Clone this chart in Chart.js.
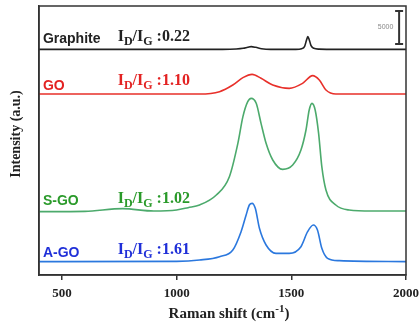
<!DOCTYPE html>
<html>
<head>
<meta charset="utf-8">
<script src="https://cdn.jsdelivr.net/npm/chart.js@4/dist/chart.umd.min.js"></script>
<style>
  html, body { margin: 0; padding: 0; background: #fff; }
  #wrap { width: 419px; height: 327px; }
</style>
</head>
<body>
<div id="wrap"><canvas id="ramanChart" width="419" height="327"></canvas></div>
<script>
// Raman spectra (offset stacked, a.u.)
const graphiteX = [400, 1200, 1260, 1290, 1310, 1325, 1345, 1370, 1410, 1520, 1545, 1558, 1566, 1572, 1578, 1586, 1598, 1620, 1700, 2000];
const graphiteY = [33850, 33850, 33900, 34000, 34150, 34250, 34150, 33950, 33850, 33850, 33950, 34300, 35200, 35750, 35300, 34400, 34000, 33880, 33850, 33850];

const goX = [400, 1100, 1187, 1245, 1289, 1329, 1368, 1419, 1491, 1549, 1593, 1622, 1651, 1694, 2000];
const goY = [27150, 27150, 27500, 28500, 29600, 30100, 29500, 28500, 28000, 28750, 29900, 29250, 27750, 27150, 27150];

const sgoX = [400, 600, 765, 900, 1000, 1050, 1100, 1173, 1230, 1267, 1289, 1310, 1325, 1347, 1368, 1390, 1419, 1462, 1506, 1542, 1564, 1578, 1590, 1604, 1619, 1633, 1651, 1694, 1752, 1850, 2000];
const sgoY = [9500, 9550, 9950, 9600, 9750, 10100, 10500, 12000, 14750, 19750, 23750, 26000, 26500, 25750, 22750, 19750, 17250, 15850, 16500, 18750, 21750, 24750, 25750, 24750, 21250, 16250, 12750, 10500, 9750, 9600, 9600];

const agoX = [400, 1000, 1100, 1187, 1245, 1281, 1303, 1317, 1329, 1343, 1361, 1390, 1433, 1491, 1542, 1571, 1596, 1614, 1633, 1658, 1709, 2000];
const agoY = [2000, 2050, 2250, 2750, 3750, 6500, 9000, 10500, 10750, 10000, 7000, 4500, 3250, 3250, 4250, 6500, 7500, 6750, 4000, 2500, 2150, 2000];

const sampleNames = ["Graphite", "GO", "S-GO", "A-GO"];
const ratios = ["0.22", "1.10", "1.02", "1.61"];
const lineColors = ["#222222", "#e8302a", "#4caa6c", "#2b78de"];
const textColors = ["#222222", "#e32222", "#2a9a2a", "#1f2fd8"];
// where the labels sit (data coords: x in cm-1, y in a.u.)
const labelY = [34800, 27750, 10500, 2700];
const ratioY = [35100, 28500, 10800, 3150];

const xTicks = [500, 1000, 1500, 2000];
const scaleBarX = [1970, 1970];
const scaleBarY = [34650, 39600];

function pts(xs, ys) {
    return xs.map((x, i) => ({ x: x, y: ys[i] }));
}

const spectra = [pts(graphiteX, graphiteY), pts(goX, goY), pts(sgoX, sgoY), pts(agoX, agoY)];

let datasets = spectra.map((d, i) => ({
    label: sampleNames[i],
    data: d,
    borderColor: lineColors[i],
    borderWidth: 1.6,
    pointRadius: 0,
    cubicInterpolationMode: "monotone",
    fill: false
}));

// 5000 a.u. scale bar
datasets.push({
    label: "scale",
    data: pts(scaleBarX, scaleBarY),
    borderColor: "#333",
    backgroundColor: "#333",
    borderWidth: 2,
    pointStyle: "line",
    pointRadius: 4,
    pointBorderWidth: 2
});

function drawRatio(ctx, x, y, value, color) {
    ctx.save();
    ctx.fillStyle = color;
    ctx.textBaseline = "alphabetic";
    ctx.textAlign = "left";
    const big = "bold 16px 'Liberation Serif', 'Times New Roman', serif";
    const small = "bold 12px 'Liberation Serif', 'Times New Roman', serif";
    let parts = [["I", big, 0], ["D", small, 4], ["/I", big, 0], ["G", small, 4], [" :" + value, big, 0]];
    parts.forEach(p => {
        ctx.font = p[1];
        ctx.fillText(p[0], x, y + p[2]);
        x += ctx.measureText(p[0]).width;
    });
    ctx.restore();
}

const decorations = {
    id: "decorations",
    afterDatasetsDraw(chart) {
        const ctx = chart.ctx;
        const a = chart.chartArea;
        const xs = chart.scales.x, ys = chart.scales.y;

        // frame
        ctx.save();
        ctx.strokeStyle = "#333";
        ctx.lineWidth = 1.5;
        ctx.strokeRect(a.left, a.top, a.right - a.left, a.bottom - a.top);
        ctx.restore();

        // sample names and ratios
        sampleNames.forEach((name, i) => {
            ctx.save();
            ctx.fillStyle = textColors[i];
            ctx.font = "bold 14px 'Liberation Sans', Arial, sans-serif";
            ctx.textBaseline = "alphabetic";
            ctx.fillText(name, xs.getPixelForValue(417), ys.getPixelForValue(labelY[i]));
            ctx.restore();
            drawRatio(ctx, xs.getPixelForValue(743), ys.getPixelForValue(ratioY[i]), ratios[i], textColors[i]);
        });

        // scale bar label
        ctx.save();
        ctx.fillStyle = "#888";
        ctx.font = "7px 'Liberation Sans', Arial, sans-serif";
        ctx.textAlign = "right";
        ctx.textBaseline = "middle";
        ctx.fillText("5000", xs.getPixelForValue(1945), ys.getPixelForValue(37200));
        ctx.restore();

        // axis titles
        ctx.save();
        ctx.fillStyle = "#222";
        ctx.font = "bold 14px 'Liberation Serif', 'Times New Roman', serif";
        ctx.textAlign = "center";
        ctx.textBaseline = "middle";
        ctx.translate(16, 134);
        ctx.rotate(-Math.PI / 2);
        ctx.fillText("Intensity (a.u.)", 0, 0);
        ctx.restore();

        ctx.save();
        ctx.fillStyle = "#222";
        ctx.textBaseline = "alphabetic";
        ctx.textAlign = "left";
        const big = "bold 15px 'Liberation Serif', 'Times New Roman', serif";
        const sup = "bold 11px 'Liberation Serif', 'Times New Roman', serif";
        ctx.font = big;
        const w1 = ctx.measureText("Raman shift (cm").width;
        const w3 = ctx.measureText(")").width;
        ctx.font = sup;
        const w2 = ctx.measureText("-1").width;
        let x = 229 - (w1 + w2 + w3) / 2;
        const y = 318;
        ctx.font = big;
        ctx.fillText("Raman shift (cm", x, y);
        x += w1;
        ctx.font = sup;
        ctx.fillText("-1", x, y - 6);
        x += w2;
        ctx.font = big;
        ctx.fillText(")", x, y);
        ctx.restore();
    }
};

new Chart(document.getElementById("ramanChart").getContext("2d"), {
    type: "line",
    data: { datasets: datasets },
    options: {
        responsive: false,
        animation: false,
        layout: { padding: { top: 6, right: 13, left: 0, bottom: 0 } },
        plugins: {
            legend: { display: false },
            tooltip: { enabled: false }
        },
        scales: {
            x: {
                type: "linear",
                min: 400,
                max: 2000,
                afterBuildTicks: function(axis) {
                    axis.ticks = xTicks.map(v => ({ value: v }));
                },
                afterFit: function(axis) {
                    axis.height = 52;
                    axis.paddingLeft = 0;
                    axis.paddingRight = 0;
                },
                border: { display: true, color: "#333", width: 1.5 },
                grid: { drawOnChartArea: false, drawTicks: true, tickLength: 5, color: "#333", lineWidth: 1.5 },
                ticks: {
                    color: "#222",
                    padding: 6,
                    maxRotation: 0,
                    callback: function(v) { return String(v); },
                    font: { family: "'Liberation Serif', 'Times New Roman', serif", size: 13, weight: "bold" }
                }
            },
            y: {
                type: "linear",
                min: 0,
                max: 40350,
                afterFit: function(axis) {
                    axis.width = 39;
                    axis.paddingTop = 0;
                    axis.paddingBottom = 0;
                },
                border: { display: true, color: "#333", width: 1.5 },
                grid: { display: false },
                ticks: { display: false }
            }
        }
    },
    plugins: [decorations]
});
</script>
</body>
</html>
